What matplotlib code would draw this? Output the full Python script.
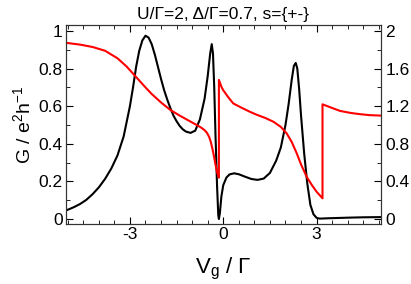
import matplotlib
matplotlib.use('Agg')
from matplotlib import pyplot as plt
from matplotlib.ticker import MultipleLocator

plt.rcParams['font.family'] = ['Liberation Sans', 'DejaVu Sans']
plt.rcParams['mathtext.fontset'] = 'custom'
plt.rcParams['mathtext.rm'] = 'Liberation Sans'
plt.rcParams['mathtext.it'] = 'Liberation Sans:italic'

# Conductance G (left axis)
vg_g = [-5.07, -4.8, -4.6, -4.4, -4.2, -4.0, -3.8, -3.6, -3.4, -3.2, -3.0, -2.9,
        -2.8, -2.7, -2.6, -2.5, -2.4, -2.3, -2.2, -2.1, -2.0, -1.9, -1.8, -1.7,
        -1.6, -1.5, -1.4, -1.3, -1.2, -1.05, -0.9, -0.75, -0.6, -0.5, -0.42,
        -0.37, -0.33, -0.29, -0.25, -0.2, -0.16, -0.14, -0.11, -0.06, 0.0, 0.1,
        0.2, 0.35, 0.5, 0.7, 0.9, 1.1, 1.3, 1.5, 1.7, 1.85, 2.0, 2.1, 2.2, 2.27,
        2.33, 2.38, 2.44, 2.5, 2.6, 2.7, 2.8, 2.9, 3.0, 3.1, 3.4, 4.0, 4.5, 5.07]
g = [0.044, 0.063, 0.08, 0.102, 0.132, 0.168, 0.213, 0.268, 0.338, 0.44, 0.60, 0.70,
     0.81, 0.895, 0.95, 0.975, 0.965, 0.93, 0.875, 0.81, 0.745, 0.685, 0.635, 0.59,
     0.55, 0.52, 0.495, 0.477, 0.465, 0.458, 0.47, 0.53, 0.64, 0.76, 0.88,
     0.93, 0.88, 0.70, 0.45, 0.18, 0.02, 0.0, 0.03, 0.12, 0.18, 0.22,
     0.237, 0.243, 0.238, 0.225, 0.213, 0.208, 0.215, 0.245, 0.31, 0.38, 0.50, 0.61, 0.74, 0.815,
     0.83, 0.80, 0.69, 0.55, 0.35, 0.19, 0.075, 0.025, 0.006, 0.002, 0.004, 0.007, 0.009, 0.01]

# Red curve (right axis)
vg_r = [-5.07, -4.6, -4.2, -3.8, -3.4, -3.1, -2.8, -2.5, -2.3, -2.0, -1.7, -1.4,
        -1.1, -0.8, -0.7, -0.6, -0.52, -0.45, -0.4, -0.35, -0.3, -0.25, -0.2,
        -0.14, -0.14, -0.05, 0.0, 0.15, 0.32, 0.55, 0.86, 1.07, 1.35, 1.61, 1.85,
        2.04, 2.2, 2.36, 2.5, 2.68, 2.85, 3.0, 3.19, 3.19, 3.43, 3.75, 4.1, 4.4,
        4.7, 5.07]
r = [1.875, 1.855, 1.83, 1.79, 1.71, 1.62, 1.51, 1.40, 1.33, 1.24, 1.16, 1.10,
     1.045, 0.99, 0.97, 0.945, 0.915, 0.87, 0.82, 0.75, 0.67, 0.58, 0.50,
     0.44, 1.48, 1.40, 1.37, 1.30, 1.23, 1.19, 1.14, 1.11, 1.075, 1.035, 0.98,
     0.91, 0.82, 0.70, 0.58, 0.45, 0.36, 0.29, 0.22, 1.22, 1.19, 1.15, 1.128, 1.115,
     1.105, 1.10]

fig = plt.figure(figsize=(4.11, 2.84), dpi=100)
ax = fig.add_axes([0.1594, 0.2113, 0.7676, 0.7007])
ax2 = ax.twinx()

ax.plot(vg_g, g, color='black', lw=1.5)
ax2.plot(vg_r, r, color='red', lw=1.5)

ax.set_xlim(-5.07, 5.07)
ax.set_ylim(-0.0266, 1.032)
ax2.set_ylim(-0.0532, 2.064)

ax.xaxis.set_major_locator(MultipleLocator(3))
ax.xaxis.set_minor_locator(MultipleLocator(0.5))
ax.yaxis.set_major_locator(MultipleLocator(0.2))
ax.yaxis.set_minor_locator(MultipleLocator(0.1))
ax2.yaxis.set_major_locator(MultipleLocator(0.4))
ax2.yaxis.set_minor_locator(MultipleLocator(0.2))

ax.xaxis.set_major_formatter(plt.FuncFormatter(lambda v, p: '%g' % v))
ax.yaxis.set_major_formatter(plt.FuncFormatter(lambda v, p: '%g' % round(v, 2)))
ax2.yaxis.set_major_formatter(plt.FuncFormatter(lambda v, p: '%g' % round(v, 2)))

ax.tick_params(which='both', direction='in', top=True, right=False, labelsize=12.5, pad=2)
ax.tick_params(which='major', length=5)
ax.tick_params(which='minor', length=3)
ax2.tick_params(which='both', direction='in', labelsize=12.5, pad=3)
ax2.tick_params(which='major', length=5)
ax2.tick_params(which='minor', length=3)

for a in (ax, ax2):
    for s in a.spines.values():
        s.set_color('#333333')

ax.set_xlabel(r'V$_\mathregular{g}$ / Γ', fontsize=16, labelpad=10)
ax.set_ylabel(r'G / e$^\mathregular{2}$h$^\mathregular{-1}$', fontsize=14, labelpad=3)
ax.set_title('U/Γ=2, Δ/Γ=0.7, s={+-}', fontsize=12.5, pad=4)

plt.savefig('out.png', dpi=100)
